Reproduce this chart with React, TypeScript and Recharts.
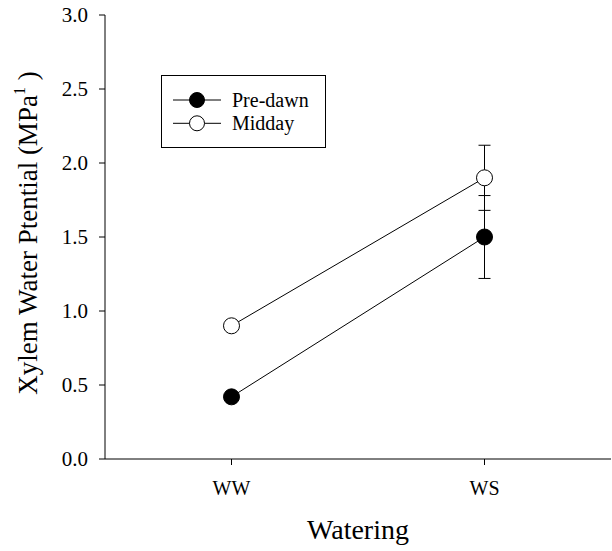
import { ComposedChart, Line, XAxis, YAxis, ErrorBar, Legend, Label } from 'recharts';

const categories = ['WW', 'WS'];
const xPositions = [1, 2];
const preDawn = [0.42, 1.5];
const preDawnErr = [0, 0.28];
const midday = [0.9, 1.9];
const middayErr = [0, 0.22];
const yTicks = [0, 0.5, 1.0, 1.5, 2.0, 2.5, 3.0];
const seriesOrder = ['preDawn', 'midday'];

const data = categories.map((c, i) => ({
  name: c,
  x: xPositions[i],
  preDawn: preDawn[i],
  preDawnErr: preDawnErr[i],
  midday: midday[i],
  middayErr: middayErr[i],
}));

const FONT = 'Liberation Serif, Tinos, DejaVu Serif, serif';

function LegendBox(props: any) {
  const items = [...(props.payload || [])].sort(
    (a: any, b: any) => seriesOrder.indexOf(a.dataKey) - seriesOrder.indexOf(b.dataKey)
  );
  return (
    <svg width={166} height={74} style={{ display: 'block' }}>
      <rect x={0.5} y={0.5} width={164} height={72} fill="#fff" stroke="#000" strokeWidth={1} />
      {items.map((it: any, i: number) => {
        const cy = 25 + i * 23.3;
        const filled = it.dataKey === 'preDawn';
        return (
          <g key={it.value}>
            <line x1={12} y1={cy} x2={60} y2={cy} stroke="#000" strokeWidth={1} />
            <circle cx={36} cy={cy} r={7.5} fill={filled ? '#000' : '#fff'} stroke="#000" strokeWidth={1} />
            <text x={71} y={cy + 6.5} fontFamily={FONT} fontSize={20} fill="#000">
              {it.value}
            </text>
          </g>
        );
      })}
    </svg>
  );
}

export default function App() {
  return (
    <div style={{ position: 'absolute', left: 0, top: 0, background: '#fff', fontFamily: FONT }}>
      <ComposedChart
        width={612}
        height={551}
        data={data}
        margin={{ top: 15, right: 1, left: 0, bottom: 32 }}
      >
        <XAxis
          dataKey="x"
          type="number"
          domain={[0.5, 2.5]}
          ticks={xPositions}
          tickFormatter={(v: number) => categories[xPositions.indexOf(v)]}
          height={60}
          tickSize={6}
          tickMargin={16}
          stroke="#000"
          tick={{ fill: '#000', fontSize: 20, fontFamily: FONT }}
        >
          <Label
            content={(p: any) => (
              <text
                x={p.viewBox.x + p.viewBox.width / 2}
                y={539}
                textAnchor="middle"
                fontFamily={FONT}
                fontSize={28}
                fill="#000"
              >
                Watering
              </text>
            )}
          />
        </XAxis>
        <XAxis xAxisId="top" orientation="top" type="number" domain={[0.5, 2.5]} height={0} tick={false} tickLine={false} stroke="#000" />
        <YAxis
          domain={[0, 3]}
          ticks={yTicks}
          tickFormatter={(v: number) => v.toFixed(1)}
          width={105}
          tickSize={6}
          tickMargin={11}
          stroke="#000"
          tick={{ fill: '#000', fontSize: 21, fontFamily: FONT }}
        >
          <Label
            content={(p: any) => {
              const cx = 36.5;
              const cy = p.viewBox.y + p.viewBox.height / 2 - 4;
              return (
                <text
                  x={cx}
                  y={cy}
                  transform={`rotate(-90, ${cx}, ${cy})`}
                  textAnchor="middle"
                  fontFamily={FONT}
                  fontSize={27}
                  fill="#000"
                >
                  Xylem Water Ptential (MPa
                  <tspan dy={-12} fontSize={16}>1</tspan>
                  <tspan dy={12}> )</tspan>
                </text>
              );
            }}
          />
        </YAxis>
        <YAxis yAxisId="right" orientation="right" domain={[0, 3]} width={0} tick={false} tickLine={false} stroke="#000" />
        <Legend
          layout="vertical"
          align="center"
          verticalAlign="middle"
          wrapperStyle={{ left: 161, top: 75, width: 166, height: 74 }}
          content={<LegendBox />}
        />
        <Line
          dataKey="preDawn"
          name="Pre-dawn"
          stroke="#000"
          strokeWidth={1}
          dot={{ r: 8, fill: '#000', stroke: '#000', strokeWidth: 1 }}
          activeDot={false}
          isAnimationActive={false}
        >
          <ErrorBar dataKey="preDawnErr" direction="y" width={6} stroke="#000" strokeWidth={1} />
        </Line>
        <Line
          dataKey="midday"
          name="Midday"
          stroke="#000"
          strokeWidth={1}
          dot={{ r: 8, fill: '#fff', stroke: '#000', strokeWidth: 1 }}
          activeDot={false}
          isAnimationActive={false}
        >
          <ErrorBar dataKey="middayErr" direction="y" width={6} stroke="#000" strokeWidth={1} />
        </Line>
      </ComposedChart>
    </div>
  );
}
